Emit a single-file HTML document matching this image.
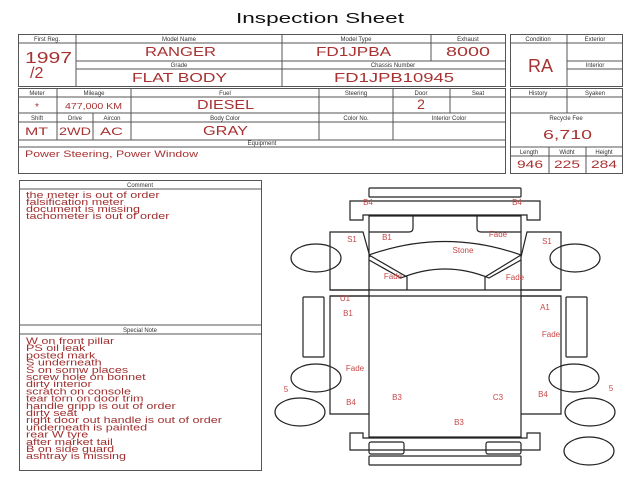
<!DOCTYPE html>
<html><head><meta charset="utf-8"><style>
body{margin:0;background:#fff;width:640px;height:480px;overflow:hidden}
svg{display:block}
.h{font:6px "Liberation Sans",sans-serif;fill:#333;text-anchor:middle}
.v{font:13px "Liberation Sans",sans-serif;fill:#a83232;text-anchor:middle}
.r{font:8px "Liberation Sans",sans-serif;fill:#c84848;text-anchor:middle}
.t{font:9px "Liberation Sans",sans-serif;fill:#a03030}
</style></head><body>
<svg width="640" height="480" xmlns="http://www.w3.org/2000/svg">
<text x="236" y="23" style="font:15px 'Liberation Sans',sans-serif" fill="#111" textLength="168" lengthAdjust="spacingAndGlyphs">Inspection Sheet</text>
<g stroke="#555" stroke-width="1" fill="none">
<rect x="18.5" y="34.5" width="487" height="52"/>
<line x1="18" y1="43" x2="505" y2="43"/>
<line x1="76" y1="34" x2="76" y2="87"/>
<line x1="282" y1="34" x2="282" y2="87"/>
<line x1="431" y1="34" x2="431" y2="61"/>
<line x1="76" y1="61" x2="505" y2="61"/>
<line x1="76" y1="69" x2="505" y2="69"/>
<rect x="510.5" y="34.5" width="112" height="52"/>
<line x1="510" y1="43" x2="623" y2="43"/>
<line x1="567" y1="34" x2="567" y2="87"/>
<line x1="567" y1="61" x2="623" y2="61"/>
<line x1="567" y1="69" x2="623" y2="69"/>
<rect x="18.5" y="88.5" width="487" height="85"/>
<line x1="18" y1="97" x2="505" y2="97"/>
<line x1="18" y1="113" x2="505" y2="113"/>
<line x1="18" y1="122" x2="505" y2="122"/>
<line x1="18" y1="140" x2="505" y2="140"/>
<line x1="18" y1="147" x2="505" y2="147"/>
<line x1="57" y1="88" x2="57" y2="140"/>
<line x1="93" y1="113" x2="93" y2="140"/>
<line x1="131" y1="88" x2="131" y2="140"/>
<line x1="319" y1="88" x2="319" y2="140"/>
<line x1="393" y1="88" x2="393" y2="140"/>
<line x1="450" y1="88" x2="450" y2="113"/>
<rect x="510.5" y="88.5" width="112" height="85"/>
<line x1="510" y1="97" x2="623" y2="97"/>
<line x1="567" y1="88" x2="567" y2="113"/>
<line x1="510" y1="113" x2="623" y2="113"/>
<line x1="510" y1="147" x2="623" y2="147"/>
<line x1="510" y1="156" x2="623" y2="156"/>
<line x1="549" y1="147" x2="549" y2="173"/>
<line x1="586" y1="147" x2="586" y2="173"/>
<rect x="19.5" y="180.5" width="242" height="290"/>
<line x1="19" y1="189" x2="262" y2="189"/>
<line x1="19" y1="325" x2="262" y2="325"/>
<line x1="19" y1="334" x2="262" y2="334"/>
</g>
<text class="h" x="47" y="41">First Reg.</text>
<text class="h" x="179" y="41">Model Name</text>
<text class="h" x="356" y="41">Model Type</text>
<text class="h" x="468" y="41">Exhaust</text>
<text class="h" x="179" y="67">Grade</text>
<text class="h" x="393" y="67">Chassis Number</text>
<text class="h" x="538" y="41">Condition</text>
<text class="h" x="595" y="41">Exterior</text>
<text class="h" x="595" y="67">Interior</text>
<text x="25" y="63" style="font:16px 'Liberation Sans',sans-serif" fill="#a83232" textLength="47" lengthAdjust="spacingAndGlyphs">1997</text>
<text x="30" y="78" style="font:16px 'Liberation Sans',sans-serif" fill="#a83232">/2</text>
<g style="font:13px 'Liberation Sans',sans-serif" fill="#a83232">
<text x="145" y="56" textLength="71" lengthAdjust="spacingAndGlyphs">RANGER</text>
<text x="316" y="56" textLength="75" lengthAdjust="spacingAndGlyphs">FD1JPBA</text>
<text x="446" y="56" textLength="44" lengthAdjust="spacingAndGlyphs">8000</text>
<text x="132" y="82" textLength="95" lengthAdjust="spacingAndGlyphs">FLAT BODY</text>
<text x="334" y="82" textLength="120" lengthAdjust="spacingAndGlyphs">FD1JPB10945</text>
<text x="197" y="109" textLength="57" lengthAdjust="spacingAndGlyphs">DIESEL</text>
<text x="203" y="135" textLength="45" lengthAdjust="spacingAndGlyphs">GRAY</text>
<text x="543" y="139" textLength="49" lengthAdjust="spacingAndGlyphs">6,710</text>
</g>
<text x="528" y="72" style="font:18px 'Liberation Sans',sans-serif" fill="#a83232" textLength="25" lengthAdjust="spacingAndGlyphs">RA</text>
<text class="h" x="37" y="95">Meter</text>
<text class="h" x="94" y="95">Mileage</text>
<text class="h" x="225" y="95">Fuel</text>
<text class="h" x="356" y="95">Steering</text>
<text class="h" x="421" y="95">Door</text>
<text class="h" x="478" y="95">Seat</text>
<text class="h" x="538" y="95">History</text>
<text class="h" x="595" y="95">Syaken</text>
<text class="v" x="37" y="110" style="font:10px 'Liberation Sans',sans-serif">*</text>
<text x="65" y="109" style="font:8px 'Liberation Sans',sans-serif" fill="#a83232" textLength="57" lengthAdjust="spacingAndGlyphs">477,000 KM</text>
<text class="v" x="421" y="109" style="font:14px 'Liberation Sans',sans-serif">2</text>
<text class="h" x="37" y="120">Shift</text>
<text class="h" x="75" y="120">Drive</text>
<text class="h" x="112" y="120">Aircon</text>
<text class="h" x="225" y="120">Body Color</text>
<text class="h" x="356" y="120">Color No.</text>
<text class="h" x="449" y="120">Interior Color</text>
<text class="h" x="566" y="120">Recycle Fee</text>
<g style="font:11px 'Liberation Sans',sans-serif" fill="#a83232">
<text x="25" y="135" textLength="23" lengthAdjust="spacingAndGlyphs">MT</text>
<text x="59" y="135" textLength="32" lengthAdjust="spacingAndGlyphs">2WD</text>
<text x="100" y="135" textLength="23" lengthAdjust="spacingAndGlyphs">AC</text>
<text x="517" y="168" textLength="26" lengthAdjust="spacingAndGlyphs">946</text>
<text x="554" y="168" textLength="26" lengthAdjust="spacingAndGlyphs">225</text>
<text x="591" y="168" textLength="26" lengthAdjust="spacingAndGlyphs">284</text>
</g>
<text class="h" x="262" y="145">Equipment</text>
<text x="25" y="157" style="font:9px 'Liberation Sans',sans-serif" fill="#a83232" textLength="173" lengthAdjust="spacingAndGlyphs">Power Steering, Power Window</text>
<text class="h" x="529" y="154">Length</text>
<text class="h" x="567" y="154">Widht</text>
<text class="h" x="604" y="154">Height</text>
<text class="h" x="140" y="187">Comment</text>
<text class="h" x="140" y="332">Special Note</text>
<g class="t" transform="translate(26,0) scale(1.4,1)">
<text x="0" y="198">the meter  is out of order</text>
<text x="0" y="205"> falsification meter</text>
<text x="0" y="212">document is missing</text>
<text x="0" y="219">tachometer is out of order</text>
<text x="0" y="344">W on front pillar</text>
<text x="0" y="351.2">PS oil leak</text>
<text x="0" y="358.4">posted mark</text>
<text x="0" y="365.6">S underneath</text>
<text x="0" y="372.8">S on somw places</text>
<text x="0" y="380">screw hole on bonnet</text>
<text x="0" y="387.2">dirty interior</text>
<text x="0" y="394.4">scratch on console</text>
<text x="0" y="401.6">tear torn on door trim</text>
<text x="0" y="408.8">handle gripp is out of order</text>
<text x="0" y="416">dirty seat</text>
<text x="0" y="423.2">right door out handle is out of order</text>
<text x="0" y="430.4">underneath is painted</text>
<text x="0" y="437.6">rear W tyre</text>
<text x="0" y="444.8">after market tail</text>
<text x="0" y="452">B on side guard</text>
<text x="0" y="459.2">ashtray is missing</text>
</g>
<g stroke="#222" stroke-width="1.2" fill="none">
<rect x="369" y="188" width="152" height="9" rx="1"/>
<path d="M350,201 H540 V220 H527 V215 H363 V220 H350 Z"/>
<rect x="369" y="216" width="152" height="221"/>
<path d="M369,232 H409 Q413,232 413,228 V216"/>
<path d="M521,232 H481 Q477,232 477,228 V216"/>
<path d="M369,255 Q445,228 521,255"/>
<path d="M369,255 L407,277 V290"/>
<path d="M521,255 L485,277 V290"/>
<path d="M369,260 L401,278 Q445,260 489,278 L521,260"/>
<path d="M370,290 H330 V232 H363 L370,257"/>
<path d="M520,290 H561 V232 H527 L521,257"/>
<line x1="330" y1="290" x2="561" y2="290"/>
<line x1="330" y1="296" x2="561" y2="296"/>
<path d="M369,296 H330 V414 H369"/>
<path d="M521,296 H561 V414 H521"/>
<path d="M350,433 H363 V438 H527 V433 H540 V450 H350 Z"/>
<rect x="369" y="442" width="35" height="12" rx="2"/>
<rect x="486" y="442" width="35" height="12" rx="2"/>
<rect x="369" y="456" width="152" height="9" rx="1"/>
<ellipse cx="316" cy="258" rx="25" ry="14"/>
<ellipse cx="575" cy="258" rx="25" ry="14"/>
<rect x="303" y="297" width="21" height="60" rx="1"/>
<rect x="566" y="297" width="21" height="60" rx="1"/>
<ellipse cx="316" cy="378" rx="25" ry="14"/>
<ellipse cx="574" cy="378" rx="25" ry="14"/>
<ellipse cx="300" cy="412" rx="25" ry="14"/>
<ellipse cx="590" cy="412" rx="25" ry="14"/>
<ellipse cx="589" cy="451" rx="25" ry="14"/>
</g>
<g class="r">
<text x="368" y="205">B4</text>
<text x="517" y="205">B4</text>
<text x="352" y="242">S1</text>
<text x="387" y="240">B1</text>
<text x="498" y="237">Fade</text>
<text x="463" y="253">Stone</text>
<text x="547" y="244">S1</text>
<text x="393" y="279">Fade</text>
<text x="515" y="280">Fade</text>
<text x="345" y="301">U1</text>
<text x="348" y="316">B1</text>
<text x="545" y="310">A1</text>
<text x="551" y="337">Fade</text>
<text x="355" y="371">Fade</text>
<text x="286" y="392">5</text>
<text x="611" y="391">5</text>
<text x="351" y="405">B4</text>
<text x="397" y="400">B3</text>
<text x="498" y="400">C3</text>
<text x="543" y="397">B4</text>
<text x="459" y="425">B3</text>
</g>
</svg>
</body></html>
